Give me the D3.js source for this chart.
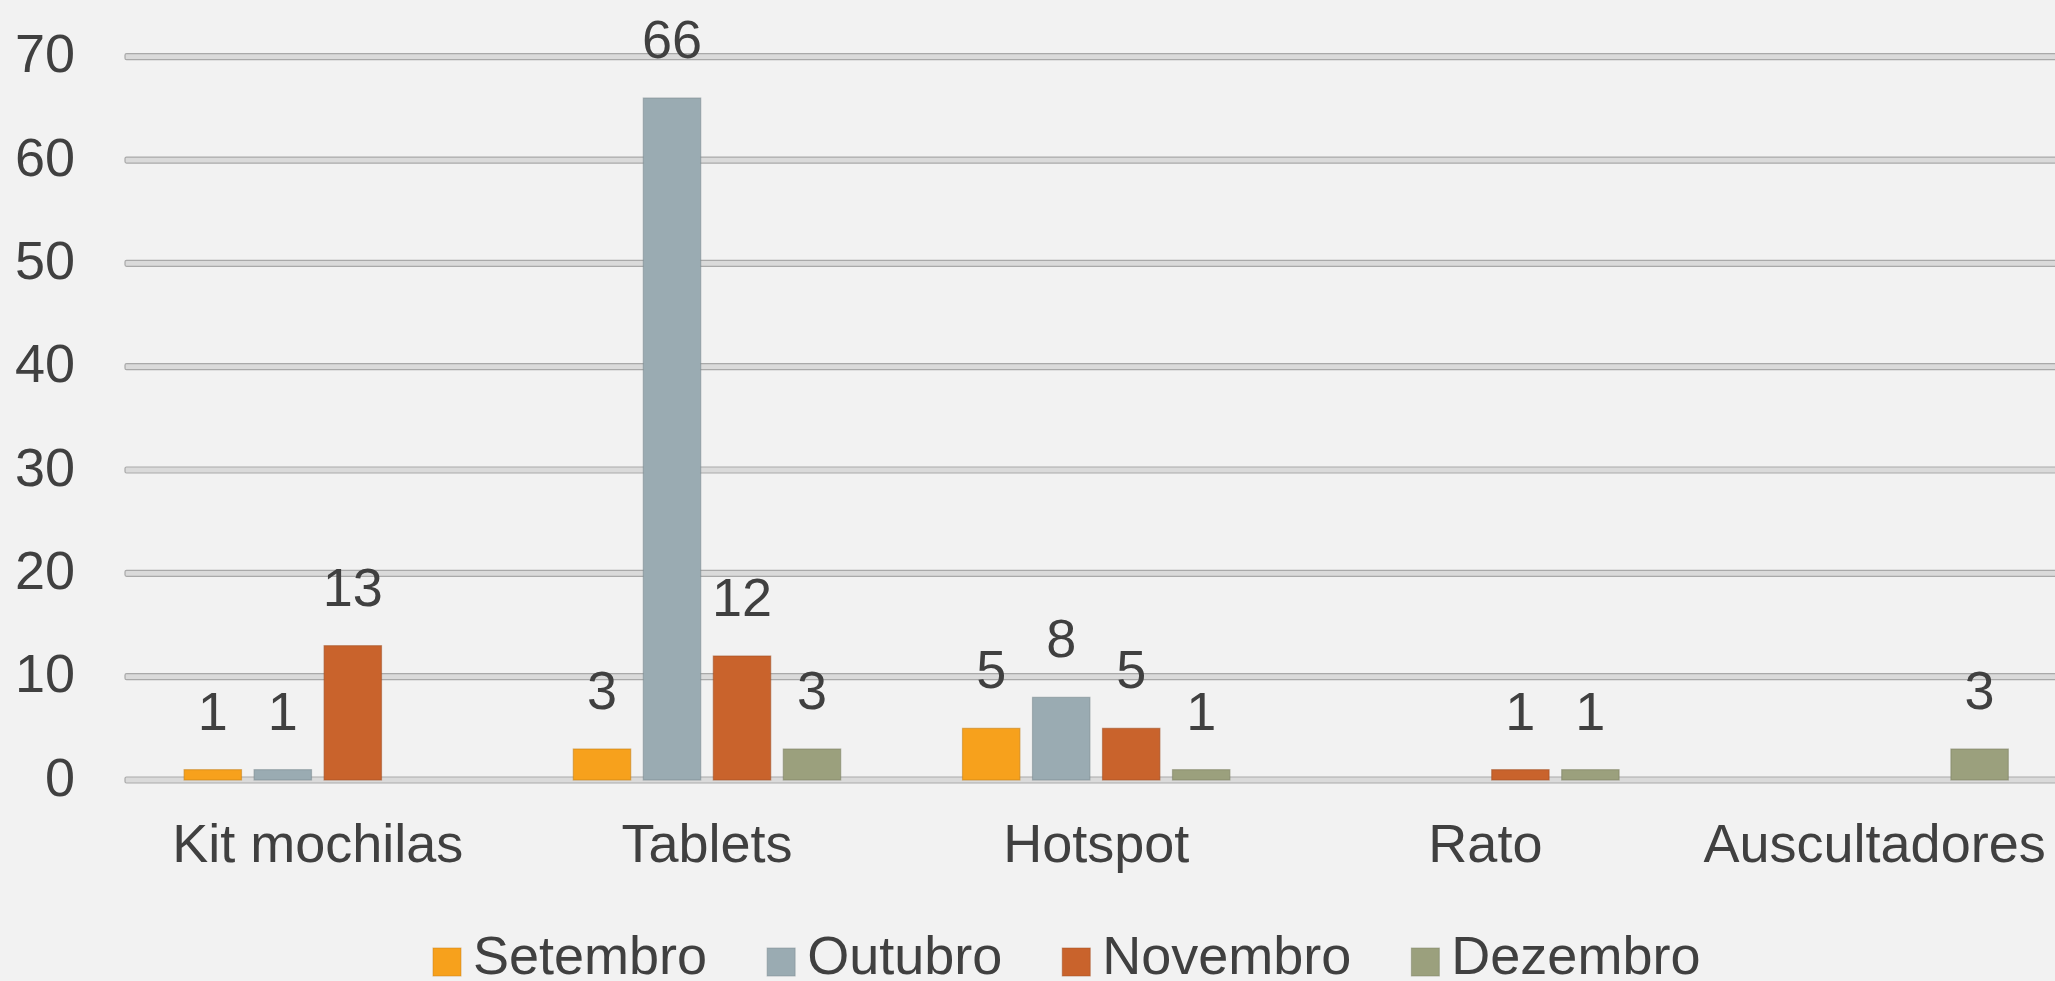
<!DOCTYPE html>
<html>
<head>
<meta charset="utf-8">
<script src="https://cdn.jsdelivr.net/npm/d3@7"></script>
<style>
  html, body { margin: 0; padding: 0; background: #f2f2f2; overflow: hidden; }
  svg { display: block; }
  text { font-family: "Liberation Sans", Arial, sans-serif; fill: #404040; }
</style>
</head>
<body>
<div id="chart"></div>
<script>
const categories = ["Kit mochilas", "Tablets", "Hotspot", "Rato", "Auscultadores"];
const seriesNames = ["Setembro", "Outubro", "Novembro", "Dezembro"];
const setembro = [1, 3, 5, 0, 0];
const outubro  = [1, 66, 8, 0, 0];
const novembro = [13, 12, 5, 1, 0];
const dezembro = [0, 3, 1, 1, 3];
const yTicks = [0, 10, 20, 30, 40, 50, 60, 70];
const seriesColors = ["#f7a11c", "#9aabb2", "#c9632c", "#9ba07d"];

const seriesValues = [setembro, outubro, novembro, dezembro];
const rows = categories.map((c, i) => ({
  category: c,
  values: seriesNames.map((s, j) => ({ series: s, idx: j, value: seriesValues[j][i] }))
}));

const W = 2055, H = 981;
const svg = d3.select("#chart").append("svg").attr("width", W).attr("height", H);
svg.append("rect").attr("width", W).attr("height", H).attr("fill", "#f2f2f2");

const x0 = d3.scaleBand().domain(categories).range([123.2, 2069.2])
  .paddingInner(0.2806).paddingOuter(0.1403);
const x1 = d3.scaleBand().domain(seriesNames).range([0, x0.bandwidth()])
  .paddingInner(0.18).paddingOuter(0.09);
const y = d3.scaleLinear().domain([0, 70]).range([780, 56.7]);

const FS = 54;

// gridlines
const grid = svg.append("g");
const gx0 = 125;
grid.selectAll("rect").data(yTicks).enter().append("rect")
  .attr("x", gx0).attr("y", d => y(d) - 3)
  .attr("width", W + 20 - gx0).attr("height", 6)
  .attr("rx", 1.5)
  .attr("fill", "#dadada").attr("stroke", "#a9a9a9").attr("stroke-width", 1.2);

// y axis labels
const yAxis = d3.axisLeft(y).tickValues(yTicks).tickSize(0).tickPadding(0);
const yg = svg.append("g").attr("transform", "translate(75,0)").call(yAxis);
yg.select(".domain").remove();
yg.selectAll("text")
  .attr("x", 0).attr("dy", null).attr("y", 15)
  .attr("text-anchor", "end")
  .style("font-family", '"Liberation Sans", Arial, sans-serif')
  .style("font-size", FS + "px").style("fill", "#404040");

// bars
const groups = svg.selectAll("g.cat").data(rows).enter().append("g")
  .attr("class", "cat").attr("transform", d => `translate(${x0(d.category)},0)`);

groups.selectAll("rect").data(d => d.values.filter(v => v.value > 0)).enter().append("rect")
  .attr("x", d => x1(d.series)).attr("width", x1.bandwidth())
  .attr("y", d => y(d.value)).attr("height", d => y(0) - y(d.value))
  .attr("fill", d => seriesColors[d.idx])
  .attr("stroke", d => d3.color(seriesColors[d.idx]).darker(0.6))
  .attr("stroke-opacity", 0.55).attr("stroke-width", 1.2);

groups.selectAll("text.val").data(d => d.values.filter(v => v.value > 0)).enter().append("text")
  .attr("class", "val")
  .attr("x", d => x1(d.series) + x1.bandwidth() / 2)
  .attr("y", d => y(d.value) - 40)
  .attr("text-anchor", "middle")
  .style("font-size", FS + "px")
  .text(d => d.value);

// category axis labels
const xAxis = d3.axisBottom(x0).tickSize(0).tickPadding(0);
const xg = svg.append("g").attr("transform", "translate(0,862)").call(xAxis);
xg.select(".domain").remove();
xg.selectAll("text").attr("y", 0).attr("dy", null)
  .style("font-family", '"Liberation Sans", Arial, sans-serif')
  .style("font-size", FS + "px").style("fill", "#404040");

// legend
const legend = svg.append("g");
let lx = 433;
seriesNames.forEach((s, i) => {
  legend.append("rect").attr("x", lx).attr("y", 948).attr("width", 28).attr("height", 28)
    .attr("fill", seriesColors[i])
    .attr("stroke", d3.color(seriesColors[i]).darker(0.6)).attr("stroke-opacity", 0.5).attr("stroke-width", 1);
  const t = legend.append("text").attr("x", lx + 40).attr("y", 974)
    .style("font-size", FS + "px").text(s);
  const tw = t.node().getComputedTextLength();
  lx = lx + 40 + tw + 60;
});
</script>
</body>
</html>
